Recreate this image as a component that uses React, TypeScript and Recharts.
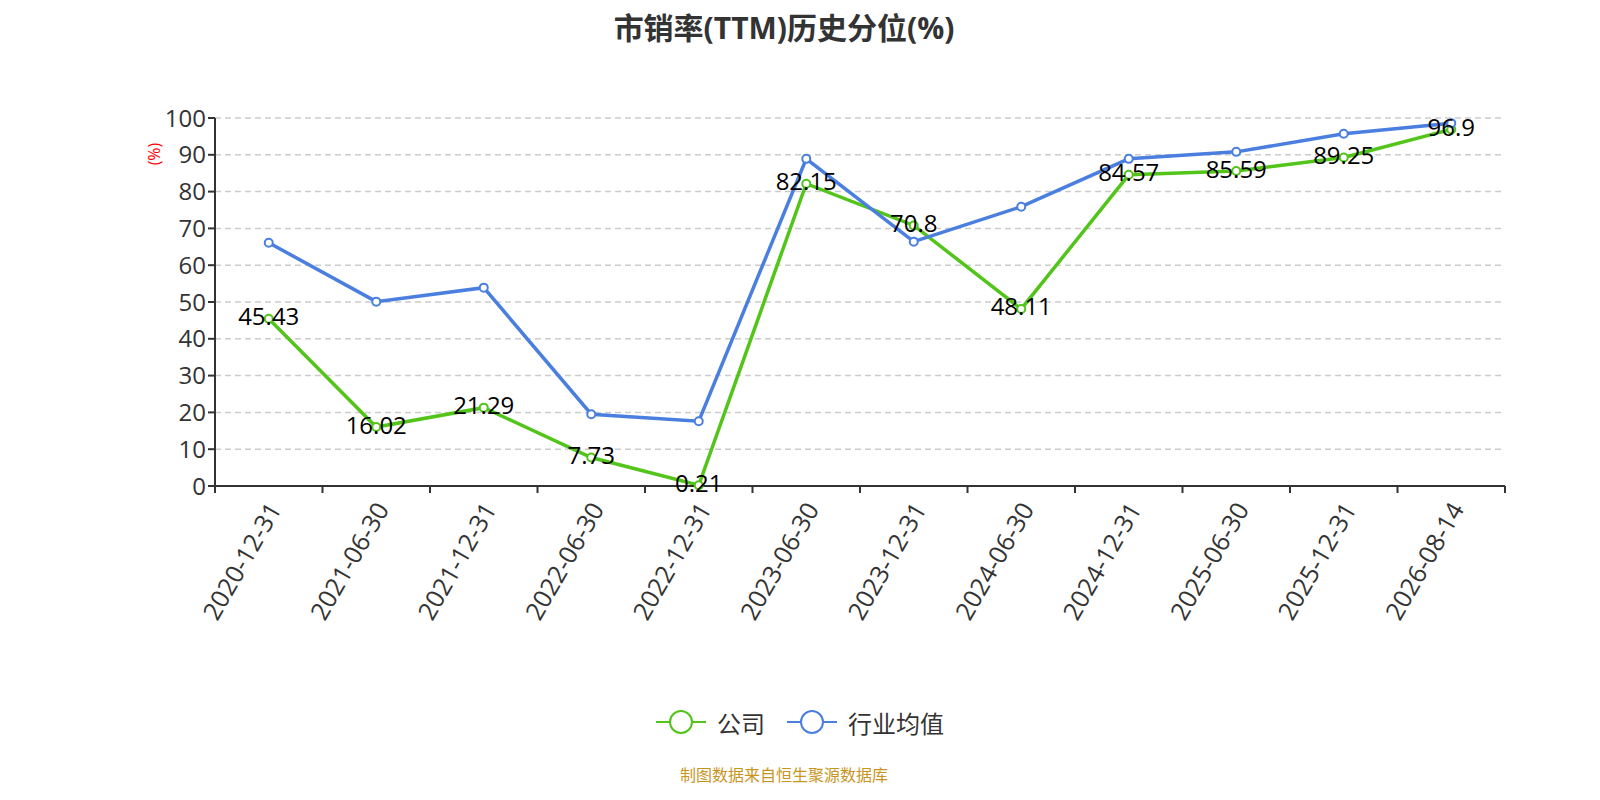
import React from 'react';
import { LineChart, Line, XAxis, YAxis, CartesianGrid, Legend, LabelList } from 'recharts';

const dates = [
  '2020-12-31', '2021-06-30', '2021-12-31', '2022-06-30', '2022-12-31', '2023-06-30',
  '2023-12-31', '2024-06-30', '2024-12-31', '2025-06-30', '2025-12-31', '2026-08-14',
];
const company = [45.43, 16.02, 21.29, 7.73, 0.21, 82.15, 70.8, 48.11, 84.57, 85.59, 89.25, 96.9];
const industry = [66.1, 50.1, 53.9, 19.5, 17.6, 88.9, 66.4, 75.9, 88.9, 90.8, 95.7, 98.6];
const yTicks = [0, 10, 20, 30, 40, 50, 60, 70, 80, 90, 100];

const GREEN = '#52c41a';
const BLUE = '#4a7fe0';
const FONT = '"Open Sans", "Noto Sans CJK SC", sans-serif';

const data = dates.map((d, i) => ({ date: d, company: company[i], industry: industry[i] }));

// category label plus a tick mark on the band boundaries (the band edges come from payload.offset)
const XTick = ({ x, y, payload, index }: any) => {
  const half = payload.offset || 0;
  const axisY = y - 8;
  return (
    <g>
      <line x1={x - half} y1={axisY} x2={x - half} y2={axisY + 7} stroke="#333" strokeWidth={2} />
      {index === dates.length - 1 && (
        <line x1={x + half} y1={axisY} x2={x + half} y2={axisY + 7} stroke="#333" strokeWidth={2} />
      )}
      <text
        x={x + 5}
        y={y + 10}
        transform={`rotate(-60, ${x + 5}, ${y + 10})`}
        textAnchor="end"
        dominantBaseline="central"
        fontSize={25}
        fill="#333"
        fontFamily={FONT}
      >
        {payload.value}
      </text>
    </g>
  );
};

const ValueLabel = ({ x, y, value }: any) => (
  <text
    x={x}
    y={y - 3}
    textAnchor="middle"
    dominantBaseline="central"
    fontSize={24}
    fill="#000"
    fontFamily={FONT}
  >
    {value}
  </text>
);

const LegendContent = () => (
  <div
    style={{
      display: 'flex',
      justifyContent: 'center',
      alignItems: 'center',
      height: 36,
      fontSize: 24,
      color: '#333',
      fontFamily: FONT,
    }}
  >
    {[
      { name: '公司', color: GREEN },
      { name: '行业均值', color: BLUE },
    ].map((item) => (
      <div key={item.name} style={{ display: 'flex', alignItems: 'center', margin: '0 11px' }}>
        <svg width={50} height={28}>
          <line x1={0} y1={14} x2={50} y2={14} stroke={item.color} strokeWidth={2} />
          <circle cx={25} cy={14} r={11} fill="#fff" stroke={item.color} strokeWidth={2} />
        </svg>
        <span style={{ marginLeft: 11 }}>{item.name}</span>
      </div>
    ))}
  </div>
);

const App = () => {
  return (
    <div style={{ position: 'absolute', left: 0, top: 0, width: 1600, height: 800, background: '#fff' }}>
      <div
        style={{
          position: 'absolute',
          top: 4,
          width: 1568,
          textAlign: 'center',
          fontSize: 30,
          fontWeight: 'bold',
          color: '#333',
          fontFamily: FONT,
        }}
      >
        市销率(TTM)历史分位(%)
      </div>
      <LineChart
        width={1600}
        height={800}
        data={data}
        margin={{ top: 118, right: 95, left: 155, bottom: 60 }}
      >
        <CartesianGrid vertical={false} strokeDasharray="6 4" stroke="#ccc" strokeWidth={1.5} />
        <XAxis
          dataKey="date"
          scale="band"
          interval={0}
          axisLine={{ stroke: '#333', strokeWidth: 2 }}
          tickLine={false}
          tickSize={6}
          tickMargin={2}
          tick={<XTick />}
          height={218}
        />
        <YAxis
          domain={[0, 100]}
          ticks={yTicks}
          width={60}
          tickSize={7}
          stroke="#333"
          strokeWidth={2}
          tick={{ fontSize: 24, fill: '#333', fontFamily: FONT }}
          label={({ viewBox }: any) => (
            <text
              x={viewBox.x - 1}
              y={viewBox.y + 36}
              transform={`rotate(-90, ${viewBox.x - 1}, ${viewBox.y + 36})`}
              textAnchor="middle"
              dominantBaseline="central"
              fontSize={16}
              fill="#ff0000"
              fontFamily={FONT}
            >
              (%)
            </text>
          )}
        />
        <Legend
          verticalAlign="bottom"
          content={<LegendContent />}
          wrapperStyle={{ left: 0, width: 1600 }}
        />
        <Line
          dataKey="company"
          name="公司"
          stroke={GREEN}
          strokeWidth={3.5}
          dot={{ r: 4, fill: '#fff', stroke: GREEN, strokeWidth: 2 }}
          isAnimationActive={false}
        >
          <LabelList dataKey="company" content={<ValueLabel />} />
        </Line>
        <Line
          dataKey="industry"
          name="行业均值"
          stroke={BLUE}
          strokeWidth={3.5}
          dot={{ r: 4, fill: '#fff', stroke: BLUE, strokeWidth: 2 }}
          isAnimationActive={false}
        />
      </LineChart>
      <div
        style={{
          position: 'absolute',
          top: 762,
          width: 1568,
          textAlign: 'center',
          fontSize: 16,
          color: '#c8961e',
          fontFamily: FONT,
        }}
      >
        制图数据来自恒生聚源数据库
      </div>
    </div>
  );
};

export default App;
